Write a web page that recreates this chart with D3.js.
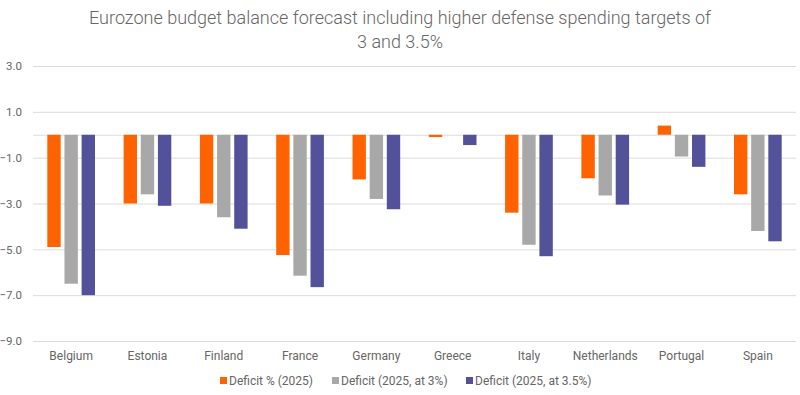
<!DOCTYPE html>
<html>
<head>
<meta charset="utf-8">
<script src="https://cdn.jsdelivr.net/npm/d3@7"></script>
<style>
  body { margin: 0; background: #fff; }
  svg text { font-family: Roboto, "Open Sans", sans-serif; fill: #666; }
</style>
</head>
<body>
<div id="chart"></div>
<script>
// chart data
var countries = ["Belgium", "Estonia", "Finland", "France", "Germany", "Greece", "Italy", "Netherlands", "Portugal", "Spain"];
var seriesNames = ["Deficit % (2025)", "Deficit (2025, at 3%)", "Deficit (2025, at 3.5%)"];
var deficit2025 = [-4.9, -3.0, -3.0, -5.25, -1.95, -0.1, -3.4, -1.9, 0.4, -2.6];
var deficitAt3 = [-6.5, -2.6, -3.6, -6.15, -2.8, 0, -4.8, -2.65, -0.95, -4.2];
var deficitAt35 = [-7.0, -3.1, -4.1, -6.65, -3.25, -0.45, -5.3, -3.05, -1.4, -4.65];
var yTicks = [3, 1, -1, -3, -5, -7, -9];
var colors = ["#ff6200", "#a8a8a8", "#525199"];

var svgWidth = 800;
var svgHeight = 395;

var margin = { top: 66, right: 4, left: 33, bottom: 54 };
var width = svgWidth - margin.left - margin.right;
var height = svgHeight - margin.top - margin.bottom;

var svg = d3.select("#chart").append("svg")
    .attr("width", svgWidth).attr("height", svgHeight);

// title
var title = svg.append("text")
    .attr("x", svgWidth / 2)
    .attr("text-anchor", "middle")
    .style("font-size", "18px")
    .style("font-weight", 300);
title.append("tspan").attr("x", svgWidth / 2).attr("y", 24)
    .text("Eurozone budget balance forecast including higher defense spending targets of");
title.append("tspan").attr("x", svgWidth / 2).attr("y", 48)
    .text("3 and 3.5%");

var chartGroup = svg.append("g")
    .attr("transform", `translate(${margin.left}, ${margin.top})`);

// scales
var yScale = d3.scaleLinear().domain([-9, 3]).range([height, 0]);
var x0 = d3.scaleBand().domain(countries).range([0, width]).padding(0);
var groupW = x0.bandwidth() * 0.625;
var x1 = d3.scaleBand().domain(d3.range(3)).range([0, groupW]).paddingInner(0.22);

// gridlines
chartGroup.append("g")
    .call(d3.axisLeft(yScale).tickValues(yTicks.concat([0])).tickSize(-width).tickFormat(""))
    .call(g => g.select(".domain").remove())
    .call(g => g.selectAll("line").attr("stroke", "#dcdcdc"));

// y labels
chartGroup.append("g")
    .call(d3.axisLeft(yScale).tickValues(yTicks).tickSize(0).tickPadding(11).tickFormat(d3.format(".1f")))
    .call(g => g.select(".domain").remove())
    .call(g => g.selectAll("text").style("font-size", "11.5px").style("fill", "#666"));

// x labels
chartGroup.append("g")
    .attr("transform", `translate(0, ${height})`)
    .call(d3.axisBottom(x0).tickSize(0).tickPadding(10))
    .call(g => g.select(".domain").remove())
    .call(g => g.selectAll("text").style("font-size", "12px").style("fill", "#666"));

// bars
var allSeries = [deficit2025, deficitAt3, deficitAt35];
var groups = chartGroup.selectAll(".country")
    .data(countries)
    .enter().append("g")
    .attr("transform", d => `translate(${x0(d) + (x0.bandwidth() - groupW) / 2}, 0)`);

groups.selectAll("rect")
    .data((d, i) => allSeries.map((s, k) => ({ k: k, v: s[i] })))
    .enter().append("rect")
    .attr("x", d => x1(d.k))
    .attr("width", x1.bandwidth())
    .attr("y", d => yScale(Math.max(0, d.v)))
    .attr("height", d => Math.abs(yScale(d.v) - yScale(0)))
    .attr("fill", d => colors[d.k]);

// legend
var legendX = [220, 332, 466];
var legend = svg.append("g").attr("transform", "translate(0, 381)");
seriesNames.forEach(function (name, k) {
    legend.append("rect")
        .attr("x", legendX[k]).attr("y", -4)
        .attr("width", 7).attr("height", 7)
        .attr("fill", colors[k]);
    legend.append("text")
        .attr("x", legendX[k] + 9).attr("y", 4)
        .style("font-size", "12px")
        .text(name);
});
</script>
</body>
</html>
